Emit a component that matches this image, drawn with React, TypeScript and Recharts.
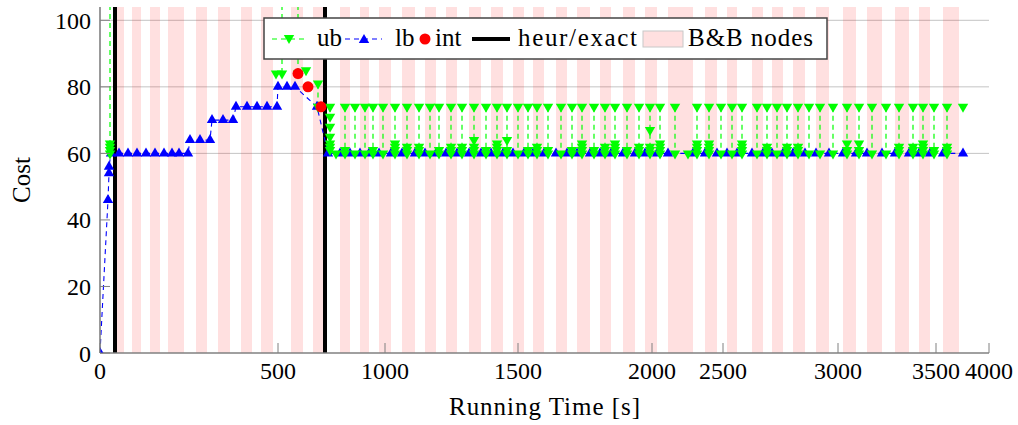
import { ComposedChart, Line, XAxis, YAxis, CartesianGrid, ReferenceArea, ReferenceLine } from "recharts"

const FONT = "'Liberation Serif', 'Times New Roman', serif"

// x runs along the solver's step axis (0..889); running-time labels sit on these steps
const stepTicks = [0, 178, 285, 418, 552, 623, 738, 836, 889]
const timeLabels = ["0", "500", "1000", "1500", "2000", "2500", "3000", "3500", "4000"]
const costTicks = [0, 20, 40, 60, 80, 100]
const gridCosts = [60, 80, 100]

// alternating shaded B&B nodes [start, end]
const bbNodes: [number, number][] = [
  [15, 24], [32, 41], [50, 60], [68, 84], [96, 107], [118, 130], [141, 152], [161, 173],
  [191, 203], [213, 225], [240, 250], [260, 269], [279, 291], [302, 315], [325, 336],
  [346, 357], [369, 381], [391, 403], [413, 424], [433, 444], [456, 467], [477, 490],
  [500, 511], [523, 535], [545, 557], [568, 593], [605, 617], [627, 637], [652, 663],
  [672, 683], [693, 705], [716, 729], [743, 756], [767, 782], [795, 809], [819, 830],
  [843, 859],
]

// heuristic / exact switch points
const heurSteps = [15, 225]

// lower bound [step, cost]
const lbPoints: [number, number][] = [
  [0, 0], [8, 46], [9, 54], [9, 56], [11, 60], [19, 60], [28, 60], [37, 60], [46, 60],
  [55, 60], [64, 60], [72, 60], [79, 60], [88, 60], [90, 64], [100, 64], [110, 64],
  [112, 70], [123, 70], [133, 70], [136, 74], [147, 74], [157, 74], [167, 74], [177, 74],
  [178, 80], [187, 80], [195, 80], [217, 74], [228, 60], [240, 60], [250, 60], [260, 60],
  [269, 60], [279, 60], [291, 60], [302, 60], [315, 60], [325, 60], [336, 60], [346, 60],
  [357, 60], [369, 60], [381, 60], [391, 60], [403, 60], [413, 60], [424, 60], [433, 60],
  [444, 60], [456, 60], [467, 60], [477, 60], [490, 60], [500, 60], [511, 60], [523, 60],
  [535, 60], [545, 60], [557, 60], [568, 60], [593, 60], [605, 60], [617, 60], [627, 60],
  [637, 60], [652, 60], [663, 60], [672, 60], [683, 60], [693, 60], [705, 60], [716, 60],
  [729, 60], [743, 60], [756, 60], [767, 60], [782, 60], [795, 60], [809, 60], [819, 60],
  [830, 60], [843, 60], [863, 60],
]

// upper bound runs: [step, costs found in that run]; 110 = no bound yet (above the range)
const ubRuns: [number, number[]][] = [
  [10, [110, 63, 62, 61, 60]],
  [176, [84]],
  [182, [110, 84]],
  [198, [110, 84]],
  [206, [85]],
  [218, [81, 74]],
  [230, [74, 71, 68, 65, 63, 62, 61]],
  [236, [60]],
  [245, [74, 61, 60]], [255, [74, 60]], [265, [74, 60]], [273, [74, 61, 60]],
  [283, [74, 60]], [295, [74, 63, 62, 61, 60]], [307, [74, 62, 61, 60]],
  [319, [74, 62, 61, 60]], [330, [74, 60]], [339, [74, 61, 60]], [351, [74, 62, 61, 60]],
  [362, [74, 62, 61, 60]], [374, [74, 64, 62, 61, 60]], [386, [74, 61, 60]],
  [397, [74, 63, 62, 61, 60]], [407, [74, 64, 61, 60]], [418, [74, 60]],
  [428, [74, 61, 60]], [437, [74, 62, 61, 60]], [448, [74, 61, 60]], [461, [74, 60]],
  [472, [74, 61, 60]], [482, [74, 63, 62, 61, 60]], [494, [74, 61, 60]],
  [505, [74, 62, 61, 60]], [515, [74, 63, 62, 61, 60]], [527, [74, 61, 60]],
  [539, [74, 62, 61, 60]], [550, [74, 67, 62, 61, 60]], [560, [74, 63, 62, 61, 60]],
  [575, [74, 60]], [588, [60]], [597, [74, 63, 62, 61, 60]], [609, [74, 63, 62, 61, 60]],
  [621, [74, 60]], [632, [74, 60]], [642, [74, 63, 62, 61, 60]], [657, [74, 60]],
  [667, [74, 62, 61, 60]], [677, [74, 60]], [687, [74, 62, 61, 60]],
  [698, [74, 62, 61, 60]], [709, [74, 60]], [720, [74, 60]], [733, [74, 60]],
  [747, [74, 63, 61, 60]], [759, [74, 63, 61, 60]], [772, [74, 60]], [786, [74, 60]],
  [799, [74, 62, 61, 60]], [813, [74, 62, 61, 60]], [823, [74, 63, 62, 61, 60]],
  [834, [74, 61, 60]], [847, [74, 62, 61, 60]], [863, [74]],
]

// integer solutions
const intPoints: [number, number][] = [[198, 84], [208, 80], [221, 74]]

const lbData = lbPoints.map(([step, cost]) => ({ step, cost }))
const ubData = ubRuns.flatMap(([step, costs]) => [
  ...costs.map((cost) => ({ step, cost })),
  { step, cost: null },
])
const intData = intPoints.map(([step, cost]) => ({ step, cost }))

const GREEN = "#00ff00"
const BLUE = "#0000ff"
const RED = "#ff0000"
const AXIS = "#808080"
const textStyle = { fontFamily: FONT }

const triDownPath = (x: number, y: number) => `M${x - 5.2},${y - 3}L${x + 5.2},${y - 3}L${x},${y + 6}Z`
const triUpPath = (x: number, y: number) => `M${x - 5.2},${y + 3}L${x + 5.2},${y + 3}L${x},${y - 6}Z`

const triDown = (p: any) => {
  if (p.cx == null || p.cy == null || p.value == null) return <g key={p.index} />
  return <path key={p.index} d={triDownPath(p.cx, p.cy)} fill={GREEN} />
}
const triUp = (p: any) => {
  if (p.cx == null || p.cy == null) return <g key={p.index} />
  return <path key={p.index} d={triUpPath(p.cx, p.cy)} fill={BLUE} />
}
const redDot = (p: any) => {
  if (p.cx == null || p.cy == null) return <g key={p.index} />
  return <circle key={p.index} cx={p.cx} cy={p.cy} r={5.5} fill={RED} />
}

const XTick = ({ x, y, payload }: any) => (
  <g>
    <line x1={x} x2={x} y1={y} y2={y - 10} stroke={AXIS} strokeWidth={1} />
    <text x={x} y={y + 26} textAnchor="middle" style={textStyle} fontSize={24} fill="#000">
      {timeLabels[stepTicks.indexOf(payload.value)]}
    </text>
  </g>
)

const YTick = ({ x, y, payload }: any) => (
  <g>
    <line x1={x} x2={x + 10} y1={y} y2={y} stroke={AXIS} strokeWidth={1} />
    <text x={x - 9} y={y + 8.5} textAnchor="end" style={textStyle} fontSize={24} fill="#000">
      {payload.value}
    </text>
  </g>
)

function LegendBox() {
  const t = { style: textStyle, fontSize: 25, fill: "#000" }
  return (
    <svg width={566} height={44} style={{ position: "absolute", left: 263, top: 17 }}>
      <rect x={1} y={1} width={563} height={41} fill="#fff" stroke="#444" strokeWidth={1.5} />
      <line x1={9} x2={43} y1={22} y2={22} stroke={GREEN} strokeWidth={1.2} strokeDasharray="5 4" />
      <path d={triDownPath(26, 21)} fill={GREEN} />
      <text x={54} y={29} {...t}>ub</text>
      <line x1={82} x2={119} y1={22} y2={22} stroke={BLUE} strokeWidth={1.2} strokeDasharray="5 4" />
      <path d={triUpPath(101, 23)} fill={BLUE} />
      <text x={132} y={29} {...t}>lb</text>
      <circle cx={162} cy={22} r={5.5} fill={RED} />
      <text x={172} y={29} {...t}>int</text>
      <line x1={209} x2={247} y1={22} y2={22} stroke="#000" strokeWidth={4} />
      <text x={255} y={29} {...t} textLength={119} lengthAdjust="spacing">heur/exact</text>
      <rect x={380} y={14} width={40} height={16} fill={RED} fillOpacity={0.12} stroke="#c8c8c8" strokeWidth={1} />
      <text x={425} y={29} {...t} textLength={125} lengthAdjust="spacing">B&amp;B nodes</text>
    </svg>
  )
}

export default function App() {
  return (
    <div style={{ position: "absolute", left: 0, top: 0, width: 1018, height: 425, background: "#fff" }}>
      <ComposedChart width={1018} height={425} margin={{ top: 7, right: 29, bottom: 0, left: 40 }}>
        <CartesianGrid vertical={false} horizontalValues={gridCosts} stroke="#c4c4c4" strokeWidth={1} />
        {bbNodes.map(([a, b], i) => (
          <ReferenceArea key={i} x1={a} x2={b} fill={RED} fillOpacity={0.12} stroke="none" ifOverflow="hidden" />
        ))}
        {heurSteps.map((s) => (
          <ReferenceLine key={s} x={s} stroke="#000" strokeWidth={4} />
        ))}
        <XAxis
          type="number"
          dataKey="step"
          domain={[0, 889]}
          ticks={stepTicks}
          allowDataOverflow
          height={72}
          tickSize={0}
          tickMargin={0}
          tickLine={false}
          axisLine={{ stroke: AXIS, strokeWidth: 1.6 }}
          tick={<XTick />}
          interval={0}
          label={{
            content: (p: any) => (
              <text
                x={p.viewBox.x + p.viewBox.width / 2}
                y={p.viewBox.y + 62}
                textAnchor="middle"
                style={textStyle}
                fontSize={25}
                fill="#000"
                textLength={191}
                lengthAdjust="spacing"
              >
                Running Time [s]
              </text>
            ),
          }}
        />
        <YAxis
          type="number"
          dataKey="cost"
          domain={[0, 104]}
          ticks={costTicks}
          allowDataOverflow
          width={60}
          tickSize={0}
          tickMargin={0}
          tickLine={false}
          axisLine={{ stroke: AXIS, strokeWidth: 1.6 }}
          tick={<YTick />}
          interval={0}
          label={{
            content: (p: any) => {
              const cy = p.viewBox.y + p.viewBox.height / 2
              return (
                <text
                  transform={`translate(30,${cy}) rotate(-90)`}
                  textAnchor="middle"
                  style={textStyle}
                  fontSize={25}
                  fill="#000"
                >
                  Cost
                </text>
              )
            },
          }}
        />
        <Line
          data={lbData}
          dataKey="cost"
          stroke={BLUE}
          strokeWidth={1.1}
          strokeDasharray="5 4"
          dot={triUp}
          activeDot={false}
          isAnimationActive={false}
        />
        <Line
          data={ubData}
          dataKey="cost"
          stroke={GREEN}
          strokeWidth={1.2}
          strokeDasharray="5 4"
          dot={triDown}
          activeDot={false}
          connectNulls={false}
          isAnimationActive={false}
        />
        <Line
          data={intData}
          dataKey="cost"
          stroke="none"
          dot={redDot}
          activeDot={false}
          isAnimationActive={false}
        />
      </ComposedChart>
      <LegendBox />
    </div>
  )
}
